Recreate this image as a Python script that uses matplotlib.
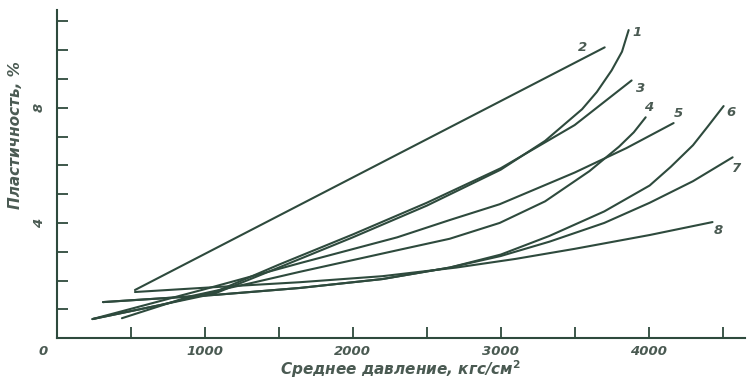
import numpy as np
from matplotlib import pyplot as plt

# давление, кгс/см2 -> пластичность, %
c1_x = [240, 700, 1068, 1500, 2000, 2500, 3000, 3300, 3550, 3650, 3750, 3820, 3865]
c1_y = [0.66, 1.15, 1.55, 2.45, 3.5, 4.6, 5.85, 6.85, 7.95, 8.55, 9.3, 9.95, 10.7]
c2_x = [527, 3703]
c2_y = [1.67, 10.1]
c3_x = [240, 700, 1068, 1500, 2000, 2500, 3000, 3500, 3885]
c3_y = [0.66, 1.15, 1.6, 2.55, 3.6, 4.7, 5.9, 7.4, 8.95]
c4_x = [439, 900, 1304, 1640, 2300, 2655, 2993, 3300, 3600, 3800, 3900, 3980]
c4_y = [0.69, 1.45, 1.9, 2.3, 3.05, 3.45, 4.0, 4.75, 5.8, 6.65, 7.15, 7.67]
c5_x = [240, 1000, 1640, 2300, 2655, 2993, 3500, 3850, 4169]
c5_y = [0.66, 1.7, 2.6, 3.5, 4.1, 4.65, 5.75, 6.6, 7.47]
c6_x = [311, 1068, 1640, 2200, 2655, 3000, 3330, 3700, 4007, 4150, 4300, 4400, 4507]
c6_y = [1.25, 1.5, 1.74, 2.05, 2.45, 2.9, 3.55, 4.4, 5.3, 5.95, 6.7, 7.35, 8.06]
c7_x = [311, 1068, 1640, 2200, 2655, 3000, 3330, 3700, 4007, 4300, 4568]
c7_y = [1.25, 1.5, 1.74, 2.05, 2.45, 2.85, 3.35, 4.0, 4.7, 5.45, 6.28]
c8_x = [527, 1068, 1640, 2200, 2700, 3100, 3500, 4007, 4432]
c8_y = [1.6, 1.77, 1.94, 2.15, 2.45, 2.75, 3.1, 3.58, 4.03]

curves = [(c1_x, c1_y), (c2_x, c2_y), (c3_x, c3_y), (c4_x, c4_y),
          (c5_x, c5_y), (c6_x, c6_y), (c7_x, c7_y), (c8_x, c8_y)]
label_names = ['1', '2', '3', '4', '5', '6', '7', '8']
label_x = [3919, 3554, 3946, 4000, 4203, 4554, 4595, 4473]
label_y = [10.6, 10.1, 8.68, 8.0, 7.8, 7.85, 5.9, 3.72]

line_col = '#2e4a3d'
text_col = '#4a5a52'
tfont = dict(family='DejaVu Sans', style='italic', weight='bold', color=text_col)

fig = plt.figure(figsize=(7.5, 3.82), dpi=100)
ax = fig.add_axes([0.076, 0.115, 0.917, 0.859])

for x, y in curves:
    ax.plot(x, y, color=line_col, linewidth=1.5, solid_capstyle='round',
            solid_joinstyle='round')

for name, lx, ly in zip(label_names, label_x, label_y):
    ax.text(lx, ly, name, fontsize=9.5, ha='center', va='center', **tfont)

ax.set_xlim(0, 4650)
ax.set_ylim(0, 11.4)
ax.spines['top'].set_visible(False)
ax.spines['right'].set_visible(False)
for s in ('left', 'bottom'):
    ax.spines[s].set_color(line_col)
    ax.spines[s].set_linewidth(1.5)

ax.set_xticks(np.arange(500, 4501, 500))
ax.set_xticklabels(['', '1000', '', '2000', '', '3000', '', '4000', ''])
ax.set_yticks(np.arange(1, 12, 1))
ax.set_yticklabels(['', '', '', '4', '', '', '', '8', '', '', ''])
ax.tick_params(direction='in', length=8, width=1.3, color=line_col)
ax.tick_params(axis='x', pad=5)
ax.tick_params(axis='y', pad=8)
for t in ax.get_xticklabels():
    t.set(fontsize=9.5, **tfont)
for t in ax.get_yticklabels():
    t.set(fontsize=9.5, rotation=90, va='center', **tfont)

ax.text(-60, -0.25, '0', fontsize=9.5, ha='right', va='top', **tfont)

ax.set_xlabel('Среднее давление, кгс/см$^{\\mathbf{2}}$', fontsize=11, labelpad=0, **tfont)
ax.set_ylabel('Пластичность, %', fontsize=11, **tfont)
ax.yaxis.set_label_coords(-0.05, 0.62)

fig.savefig('out.png', dpi=100)
